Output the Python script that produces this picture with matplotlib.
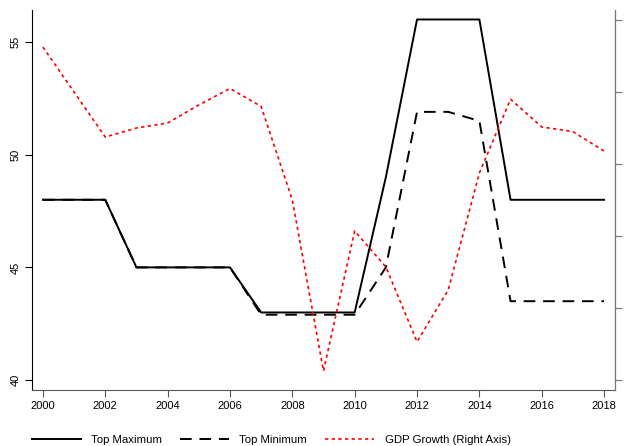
import matplotlib
matplotlib.use("Agg")
import matplotlib.pyplot as plt

plt.rcParams["font.family"] = ["Liberation Sans", "DejaVu Sans"]

years = list(range(2000, 2019))
top_max = [48, 48, 48, 45, 45, 45, 45, 43, 43, 43, 43, 49, 56, 56, 56, 48, 48, 48, 48]
top_min = [48, 48, 48, 45, 45, 45, 45, 42.9, 42.9, 42.9, 42.9, 45, 51.9, 51.9, 51.5, 43.5, 43.5, 43.5, 43.5]
gdp = [5.25, 4.0, 2.75, 3.0, 3.14, 3.64, 4.1, 3.6, 1.0, -3.75, 0.14, -0.86, -2.94, -1.5, 1.75, 3.8, 3.03, 2.9, 2.36]

left_ticks = [40, 45, 50, 55]
right_ticks = [-4, -2, 0, 2, 4, 6]
x_ticks = list(range(2000, 2019, 2))

fig = plt.figure(figsize=(6.25, 4.46), dpi=100)
ax = fig.add_axes([32 / 625, 1 - 390 / 446, (615 - 32) / 625, 380 / 446])
ax2 = ax.twinx()

l1, = ax.plot(years, top_max, color="black", lw=1.4, label="Top Maximum")
l2, = ax.plot(years, top_min, color="black", lw=1.4, ls=(0, (6, 4)), label="Top Minimum")
l3, = ax2.plot(years, gdp, color="red", lw=1.2, ls=(0, (2, 2)), label="GDP Growth (Right Axis)")

ax.set_xlim(1999.65, 2018.35)
ax.set_ylim(39.56, 56.42)
ax2.set_ylim(-4.28, 6.28)

ax.set_xticks(x_ticks)
ax.set_yticks(left_ticks)
ax2.set_yticks(right_ticks)
ax.tick_params(axis="x", labelsize=8, length=5, color="#555555", pad=3)
ax.tick_params(axis="y", labelsize=8, length=5, pad=3)
for lab in ax.get_yticklabels():
    lab.set_rotation(90)
    lab.set_va("center")
ax2.tick_params(axis="y", labelsize=8, length=5, color="#777777", pad=3)
for lab in ax2.get_yticklabels():
    lab.set_rotation(90)
    lab.set_va("center")

ax.spines["top"].set_visible(False)
ax2.spines["top"].set_visible(False)
ax2.spines["left"].set_visible(False)
ax2.spines["bottom"].set_visible(False)
ax.spines["bottom"].set_color("#555555")
ax2.spines["right"].set_color("#777777")

fig.legend(handles=[l1, l2, l3], loc="lower center", bbox_to_anchor=(0.434, -0.02),
           ncol=3, frameon=False, fontsize=8.2, handlelength=4.3, columnspacing=1.6,
           handletextpad=0.9)

fig.savefig("out.png", dpi=100)
